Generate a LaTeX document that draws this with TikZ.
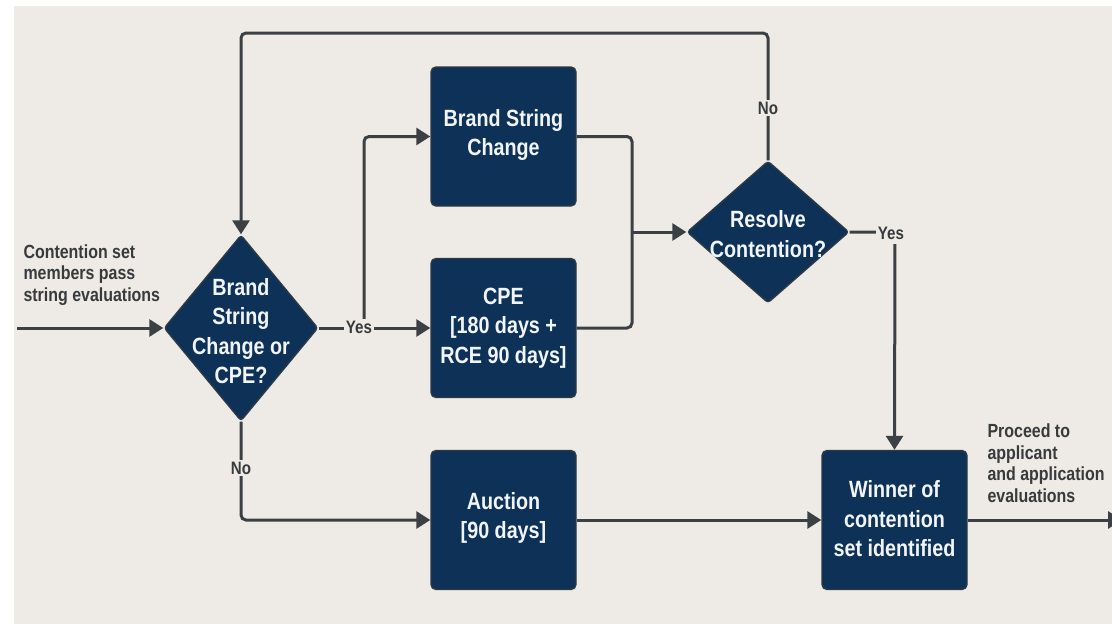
\documentclass[tikz,border=0pt]{standalone}
\usepackage{fontspec}
\setmainfont{Liberation Sans}[FakeStretch=0.84]
\usetikzlibrary{arrows.meta,shapes.geometric}
\definecolor{bgc}{HTML}{EEEAE5}
\definecolor{navy}{HTML}{0D3157}
\definecolor{edgec}{HTML}{2E3A45}
\definecolor{linec}{HTML}{3B4044}
\definecolor{txtc}{HTML}{383B3E}
\definecolor{boxtxt}{HTML}{F2F5F8}
\tikzset{
  procbox/.style={draw=edgec, line width=1.4pt, fill=navy, rounded corners=5pt,
    minimum width=145pt, minimum height=139pt, inner sep=0pt},
  decbox/.style={diamond, draw=edgec, line width=1.4pt, fill=navy, rounded corners=3pt, inner sep=0pt},
  boxtext/.style={text=boxtxt, align=center, font={\bfseries\fontsize{23.5}{29.5}\selectfont}},
  sidetext/.style={text=txtc, align=left, font={\bfseries\fontsize{19}{21.5}\selectfont}},
  edgelabel/.style={text=txtc, fill=bgc, inner sep=1.5pt, font={\bfseries\fontsize{18}{20}\selectfont}},
  conn/.style={draw=linec, line width=3pt, rounded corners=5pt},
  arr/.style={conn, -{Triangle[length=14pt,width=17pt]}},
}
\begin{document}
\begin{tikzpicture}[x=1pt,y=-1pt]
\useasboundingbox (0,0) rectangle (1112,624);
\clip (0,0) rectangle (1112,624);
\fill[white] (0,0) rectangle (1112,624);
\fill[bgc] (14,6) rectangle (1112,624);

% nodes
\node[decbox, minimum width=154pt, minimum height=186pt] (d1) at (241,328) {};
\node[boxtext] (d1t) at (241,331) {Brand\\String\\Change or\\CPE?};
\node[decbox, minimum width=162pt, minimum height=142pt] (d2) at (768,232) {};
\node[boxtext] (d2t) at (768,234) {Resolve\\Contention?};

\node[procbox] (bsc) at (503.5,136.5) {};
\node[boxtext] (bsct) at (503.5,135) {Brand String\\Change};
\node[procbox] (cpe) at (503.5,328) {};
\node[boxtext] (cpet) at (503.5,328) {CPE\\{[}180 days +\\RCE 90 days{]}};
\node[procbox] (auc) at (503.5,520) {};
\node[boxtext] (auct) at (503.5,518) {Auction\\{[}90 days{]}};
\node[procbox] (win) at (894.5,520) {};
\node[boxtext] (wint) at (894.5,519) {Winner of\\contention\\set identified};

\node[sidetext, anchor=west] (intext) at (20,275) {Contention set\\members pass\\string evaluations};
\node[sidetext, anchor=west] (outtext) at (984,463) {Proceed to\\applicant\\and application\\evaluations};

% helper coordinates
\coordinate (start) at (17,328);
\coordinate (ybranch) at (364,328);
\coordinate (merge) at (632,232);
\coordinate (topleft) at (241,33);
\coordinate (yescorner) at (895,232);
\coordinate (exit) at (1122,520);

% connectors
\draw[arr] (start) -- (d1.west);
\draw[arr] (d1.east) -- (cpe.west);
\draw[arr] (ybranch) |- (bsc.west);
\draw[arr] (d1.south) |- (auc.west);
\draw[conn] (bsc.east) -| (merge);
\draw[conn] (cpe.east) -| (merge);
\draw[arr] (merge) -- (d2.west);
\draw[arr] (d2.north) |- (topleft) -- (d1.north);
\draw[arr] (d2.east) -- (yescorner) -- (win.north);
\draw[arr] (auc.east) -- (win.west);
\draw[arr] (win.east) -- (exit);

% labels
\node[edgelabel] (ylab1) at (359,327) {Yes};
\node[edgelabel] (nlab1) at (241,468) {No};
\node[edgelabel] (nlab2) at (768,108) {No};
\node[edgelabel, inner ysep=5pt] (ylab2) at (891,233) {Yes};
\end{tikzpicture}
\end{document}
